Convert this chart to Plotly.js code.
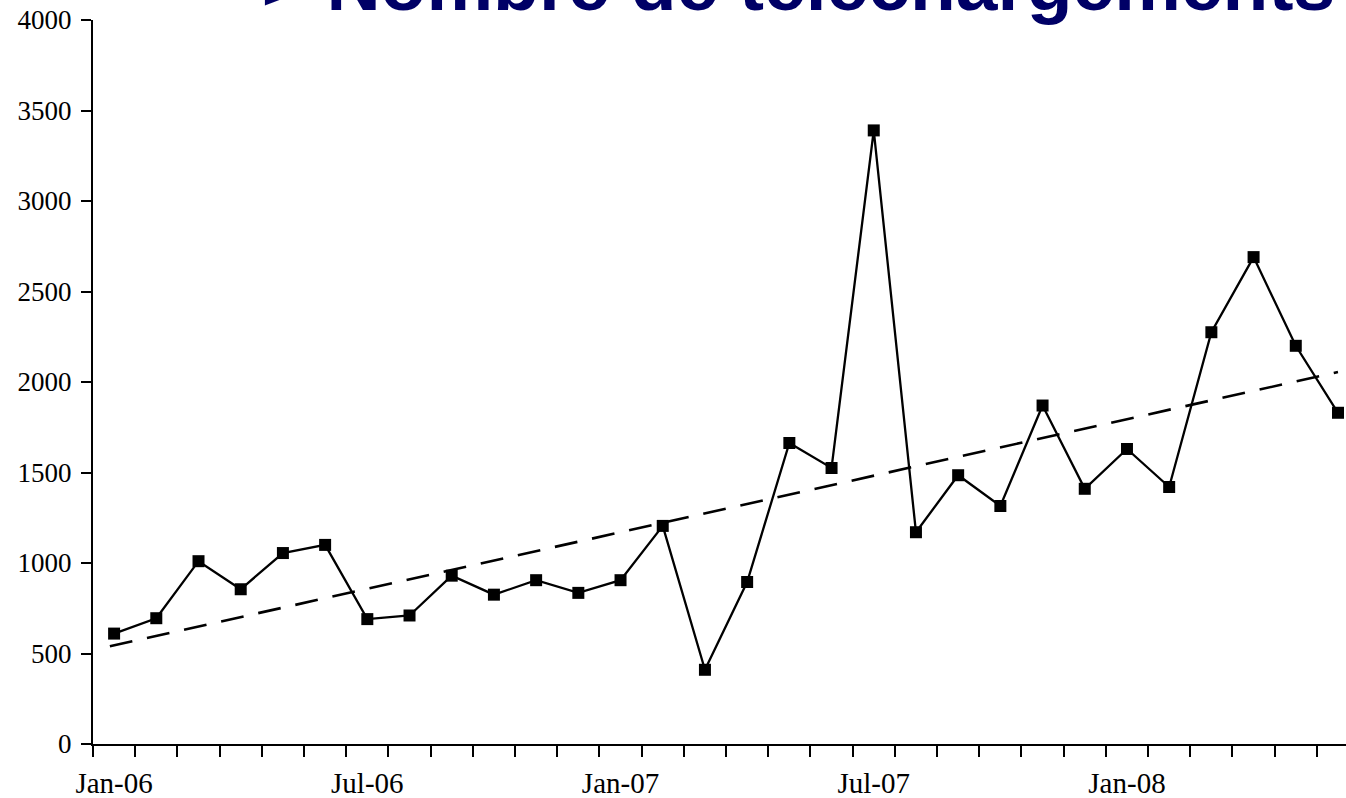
<!DOCTYPE html>
<html>
<head>
<meta charset="utf-8">
<script src="https://cdn.plot.ly/plotly-3.0.1.min.js"></script>
<style>html,body{margin:0;padding:0;background:#fff;}#chart{width:1346px;height:798px;}</style>
</head>
<body>
<div id="chart"></div>
<script>
const months = ["Jan-06","Feb-06","Mar-06","Apr-06","May-06","Jun-06","Jul-06","Aug-06","Sep-06","Oct-06","Nov-06","Dec-06",
                "Jan-07","Feb-07","Mar-07","Apr-07","May-07","Jun-07","Jul-07","Aug-07","Sep-07","Oct-07","Nov-07","Dec-07",
                "Jan-08","Feb-08","Mar-08","Apr-08","May-08","Jun-08"];
const downloads = [610,695,1010,855,1055,1100,690,710,930,825,905,835,
                   905,1205,410,895,1663,1525,3390,1170,1485,1315,1870,1410,
                   1630,1420,2275,2690,2200,1830];
const trendX = [-0.1, 29];
const trendY = [540, 2055];
const tickLabels = ["Jan-06","Jul-06","Jan-07","Jul-07","Jan-08"];
const yTicks = [0,500,1000,1500,2000,2500,3000,3500,4000];
const titleText = '=> Nombre de téléchargements';

const xIdx = months.map((m,i)=>i);
const labelPos = tickLabels.map(t=>months.indexOf(t));

const data = [
  {x: trendX, y: trendY, mode:'lines', line:{color:'#000', width:2.6, dash:'23px,15px'}, hoverinfo:'skip'},
  {x: xIdx, y: downloads, mode:'lines+markers', line:{color:'#000', width:2.3},
   marker:{symbol:'square', size:12, color:'#000'}, text: months}
];

const serif = 'Liberation Serif, Times New Roman, serif';
const layout = {
  width:1346, height:798,
  margin:{l:93, r:0, t:20, b:54},
  paper_bgcolor:'#fff', plot_bgcolor:'#fff',
  showlegend:false,
  annotations:[{text:titleText, showarrow:false, xref:'paper', yref:'paper', x:(776.5-93)/1253, xanchor:'center',
                y:1, yanchor:'middle', yshift:36,
                font:{family:'Liberation Sans, Arial, sans-serif', size:75, color:'#000066', weight:'bold'}}],
  xaxis:{range:[-0.5, 29.19], showgrid:false, zeroline:false, showline:true, linecolor:'#000', linewidth:2,
         tickmode:'array', tickvals:labelPos, ticktext:tickLabels, ticks:'', ticklen:0, ticklabelstandoff:12,
         tickfont:{family:serif, size:29, color:'#000'},
         minor:{tickmode:'linear', tick0:-0.5, dtick:1, ticks:'outside', ticklen:11, tickwidth:2, tickcolor:'#000', showgrid:false}},
  yaxis:{range:[0,4000], showgrid:false, zeroline:false, showline:true, linecolor:'#000', linewidth:2,
         tickmode:'array', tickvals:yTicks, ticks:'outside', ticklen:10, tickwidth:2, tickcolor:'#000', ticklabelstandoff:4,
         tickfont:{family:serif, size:27, color:'#000'}}
};
Plotly.newPlot('chart', data, layout, {displayModeBar:false});
</script>
</body>
</html>
